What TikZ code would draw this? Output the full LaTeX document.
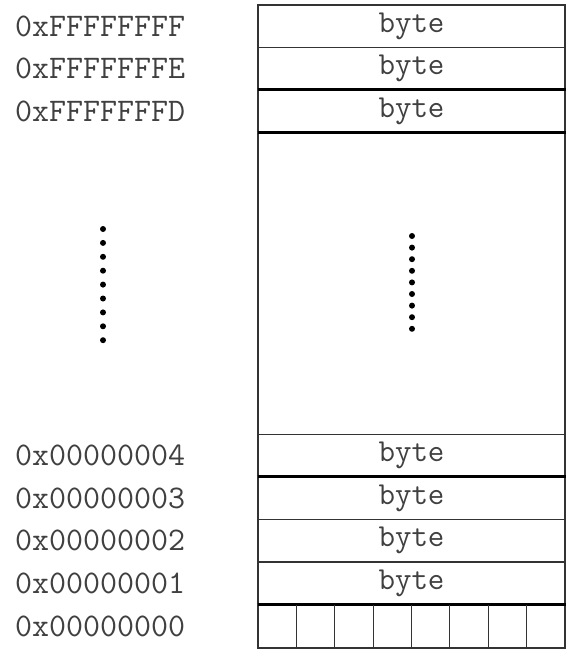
\documentclass[tikz,border=0pt]{standalone}
\usepackage{fontspec}
\begin{document}
\begin{tikzpicture}[x=1pt, y=-1pt]
	\tikzset{
		cell/.style={draw=black!80, line width=1pt, minimum width=307pt, minimum height=42.7pt, inner sep=0pt,
			font=\ttfamily\fontsize{32}{32}\selectfont, text=black!75},
		addr/.style={anchor=west, inner sep=0pt, font=\ttfamily\fontsize{33}{33}\selectfont, text=black!75},
		sep/.style={draw=black, line width=2.8pt}
	}
	\useasboundingbox (0, 0) rectangle (576, 657);
	\fill[white] (0, 0) rectangle (576, 657);

	% outer frame
	\draw[black!80, line width=1.5pt] (258, 5) rectangle (565, 648);

	% high addresses
	\node[cell] (hiF) at (411.5, 26) {byte};
	\node[cell] (hiE) at (411.5, 68.5) {byte};
	\node[cell] (hiD) at (411.5, 111) {byte};

	% low addresses
	\node[cell] (lo4) at (411.5, 455.5) {byte};
	\node[cell] (lo3) at (411.5, 498) {byte};
	\node[cell] (lo2) at (411.5, 540.5) {byte};
	\node[cell] (lo1) at (411.5, 583.5) {byte};
	\node[cell] (lo0) at (411.5, 626.5) {};

	\draw[sep] (hiD.north west) -- (hiD.north east);
	\draw[sep] (hiD.south west) -- (hiD.south east);
	\draw[sep] (lo3.north west) -- (lo3.north east);
	\draw[sep] (lo0.north west) -- (lo0.north east);

	% bits of byte 0
	\foreach \i in {1,...,7}
		\draw[black!80, line width=1pt] (258+\i*38.375, 605) -- (258+\i*38.375, 648);

	\node[addr] (aF) at (15, 26) {0xFFFFFFFF};
	\node[addr] (aE) at (15, 68.5) {0xFFFFFFFE};
	\node[addr] (aD) at (15, 111) {0xFFFFFFFD};
	\node[addr] (a4) at (15, 455.5) {0x00000004};
	\node[addr] (a3) at (15, 498) {0x00000003};
	\node[addr] (a2) at (15, 540.5) {0x00000002};
	\node[addr] (a1) at (15, 583.5) {0x00000001};
	\node[addr] (a0) at (15, 626.5) {0x00000000};

	% dots
	\foreach \i in {0,...,8} {
		\fill (103, 229+\i*13.9) circle (3);
		\fill (412, 236+\i*11.6) circle (3);
	}
\end{tikzpicture}
\end{document}
